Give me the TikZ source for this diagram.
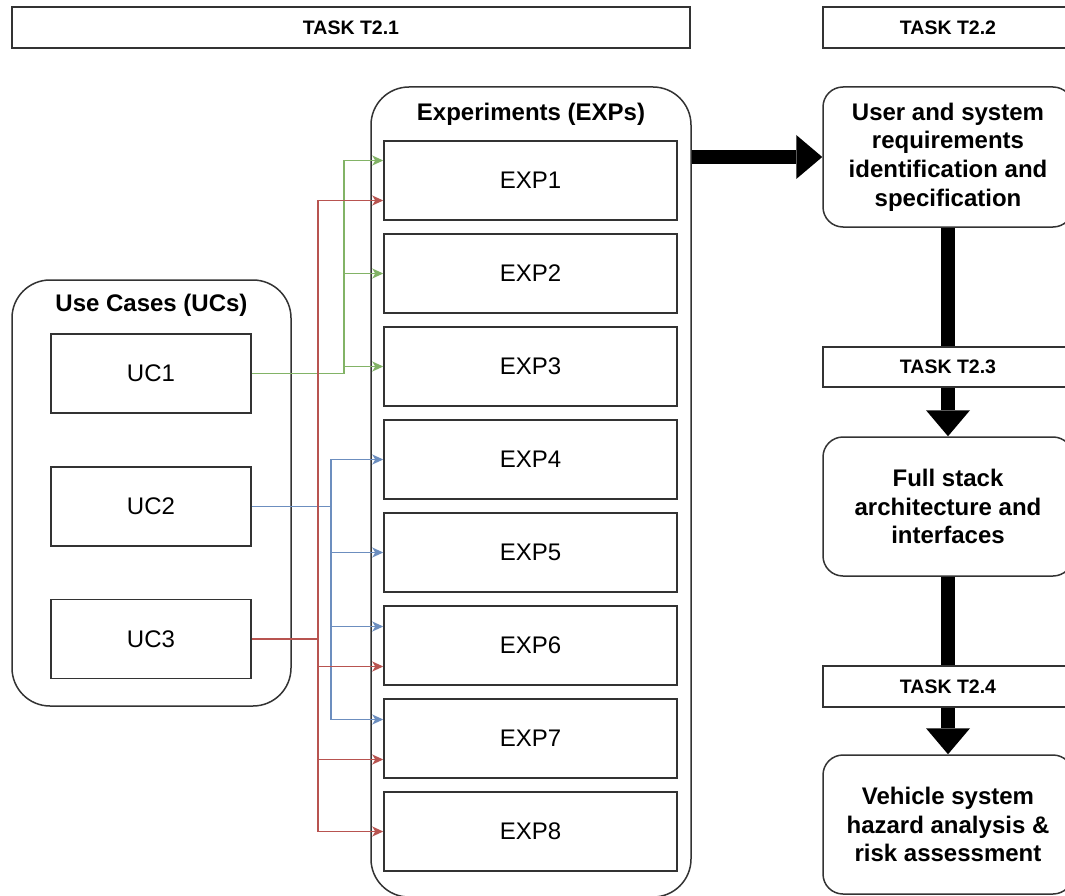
\documentclass[tikz,border=0pt]{standalone}
\usepackage{fontspec}
\setmainfont{Liberation Sans}
\usetikzlibrary{arrows.meta}
\usetikzlibrary{positioning}

\definecolor{ucgreen}{HTML}{82B366}
\definecolor{ucblue}{HTML}{6C8EBF}
\definecolor{ucred}{HTML}{B85450}

\tikzset{
    taskbox/.style={draw=black!80, line width=1.5pt, fill=white, inner sep=0pt,
        minimum width=#1, minimum height=41pt,
        font=\bfseries\fontsize{19.5}{23}\selectfont},
    taskbox/.default=250pt,
    groupbox/.style={draw=black!80, line width=1.5pt, rounded corners=38pt, inner sep=0pt},
    grouptitle/.style={font=\bfseries\fontsize{24}{28.8}\selectfont},
    itembox/.style={draw=black!80, line width=1.5pt, fill=white, inner sep=0pt,
        minimum width=#1, minimum height=79pt, font=\fontsize{24}{28.8}\selectfont},
    stepbox/.style={draw=black!80, line width=1.5pt, fill=white, rounded corners=20pt,
        inner sep=0pt, minimum width=250pt, minimum height=139pt, align=center,
        font=\bfseries\fontsize{24}{28.6}\selectfont},
    link/.style={line width=1.3pt, -{Stealth[length=11pt,width=10pt,inset=3pt]}},
    bigarrow/.style={line width=13.5pt, -{Triangle[length=26pt,width=44pt,line width=0pt]}}
}

\begin{document}
\begin{tikzpicture}[x=1pt, y=-1pt]
        \useasboundingbox (0, 0) rectangle (1065, 896);
        \clip (0, 0) rectangle (1065, 896);

        % task headers
        \node[taskbox=678pt] (t21) at (351, 27.5) {TASK T2.1};
        \node[taskbox] (t22) at (948, 27.5) {TASK T2.2};

        % use cases
        \node[groupbox, minimum width=279pt, minimum height=426pt] (ucs) at (151.5, 493) {};
        \node[grouptitle] (uctitle) at ([yshift=-26pt]ucs.north) {Use Cases (UCs)};
        \node[itembox=200pt] (uc1) at (151, 373.5) {UC1};
        \node[itembox=200pt] (uc2) at (151, 506.5) {UC2};
        \node[itembox=200pt] (uc3) at (151, 639) {UC3};

        % experiments
        \node[groupbox, minimum width=320pt, minimum height=810pt] (exps) at (531, 492) {};
        \node[grouptitle] (exptitle) at ([yshift=-28pt]exps.north) {Experiments (EXPs)};
        \node[itembox=293pt] (exp1) at (530.5, 180.5) {EXP1};
        \node[itembox=293pt] (exp2) at (530.5, 273.5) {EXP2};
        \node[itembox=293pt] (exp3) at (530.5, 366.5) {EXP3};
        \node[itembox=293pt] (exp4) at (530.5, 459.5) {EXP4};
        \node[itembox=293pt] (exp5) at (530.5, 552.5) {EXP5};
        \node[itembox=293pt] (exp6) at (530.5, 645.5) {EXP6};
        \node[itembox=293pt] (exp7) at (530.5, 738.5) {EXP7};
        \node[itembox=293pt] (exp8) at (530.5, 831.5) {EXP8};

        % UC -> EXP links
        \coordinate (gx) at (344, 373.5);
        \coordinate (bx) at (331, 506.5);
        \coordinate (rx) at (318, 639);

        \draw[link, ucgreen] (uc1.east) -- (gx) |- ([yshift=20pt]exp1.west);
        \draw[link, ucgreen] (uc1.east) -- (gx) |- (exp2.west);
        \draw[link, ucgreen] (uc1.east) -- (gx) |- (exp3.west);

        \draw[link, ucblue] (uc2.east) -- (bx) |- (exp4.west);
        \draw[link, ucblue] (uc2.east) -- (bx) |- (exp5.west);
        \draw[link, ucblue] (uc2.east) -- (bx) |- ([yshift=19pt]exp6.west);
        \draw[link, ucblue] (uc2.east) -- (bx) |- ([yshift=19pt]exp7.west);

        \draw[link, ucred] (uc3.east) -- (rx) |- ([yshift=-20pt]exp1.west);
        \draw[link, ucred] (uc3.east) -- (rx) |- ([yshift=-21pt]exp6.west);
        \draw[link, ucred] (uc3.east) -- (rx) |- ([yshift=-21pt]exp7.west);
        \draw[link, ucred] (uc3.east) -- (rx) |- (exp8.west);

        % later tasks
        \node[stepbox, minimum height=140pt] (req) at (948, 157)
            {User and system\\requirements\\identification and\\specification};
        \node[stepbox] (stack) at (948, 506.5) {Full stack\\architecture and\\interfaces};
        \node[stepbox] (hazard) at (948, 824.5) {Vehicle system\\hazard analysis \&\\risk assessment};

        \draw[bigarrow] (req.west -| exps.east) -- (req.west);
        \draw[bigarrow] (req.south) -- (stack.north);
        \draw[bigarrow] (stack.south) -- (hazard.north);

        \node[taskbox, minimum height=40pt] (t23) at (948, 367) {TASK T2.3};
        \node[taskbox] (t24) at (948, 686.5) {TASK T2.4};
    \end{tikzpicture}
\end{document}
